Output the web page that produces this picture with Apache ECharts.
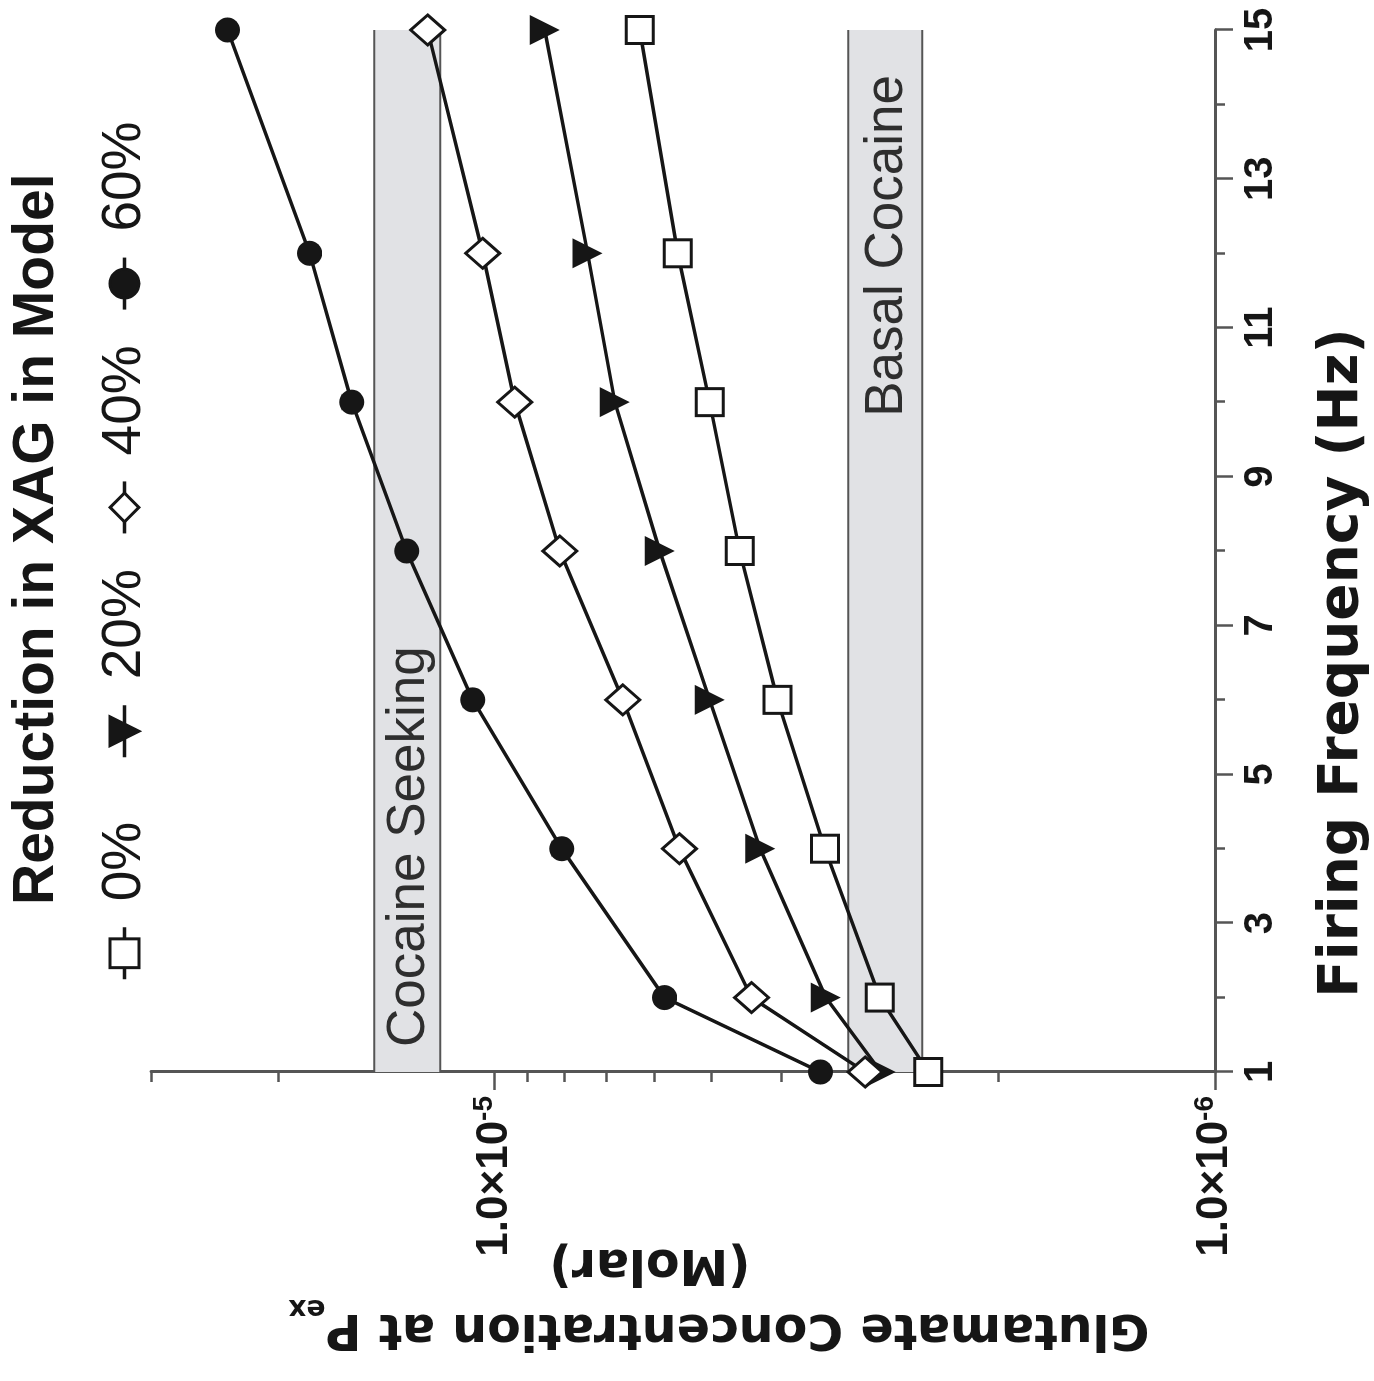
<!DOCTYPE html>
<html>
<head>
<meta charset="utf-8">
<title>Glutamate concentration vs firing frequency</title>
<script src="https://cdn.jsdelivr.net/npm/echarts@6/dist/echarts.min.js"></script>
<style>
  html, body { margin: 0; padding: 0; background: #fff; overflow: hidden; }
  body { width: 1374px; height: 1381px; position: relative; }
  /* chart is drawn upright, then turned a quarter turn like the printed figure */
  #chart {
    position: absolute; left: 0; top: 0;
    width: 1381px; height: 1374px;
    transform-origin: 0 0;
    transform: translate(0, 1381px) rotate(-90deg);
  }
</style>
</head>
<body>
<div id="chart"></div>
<script>
// firing frequency (Hz) and glutamate at Pex (Molar), one array per XAG reduction
const frequencies = [1, 2, 4, 6, 8, 10, 12, 15];
const reduction0 = [2.50e-6, 2.92e-6, 3.48e-6, 4.05e-6, 4.57e-6, 5.03e-6, 5.57e-6, 6.29e-6];
const reduction20 = [2.91e-6, 3.47e-6, 4.28e-6, 5.03e-6, 5.90e-6, 6.81e-6, 7.43e-6, 8.52e-6];
const reduction40 = [3.06e-6, 4.40e-6, 5.54e-6, 6.64e-6, 8.12e-6, 9.38e-6, 1.039e-5, 1.239e-5];
const reduction60 = [3.53e-6, 5.81e-6, 8.07e-6, 1.073e-5, 1.325e-5, 1.579e-5, 1.807e-5, 2.349e-5];
const seriesNames = ['0%', '20%', '40%', '60%'];

const freqRange = [1, 15];
const freqLabels = [1, 3, 5, 7, 9, 11, 13, 15];
const freqTicks = [2, 4, 6, 8, 10, 12, 14];
const concRange = [1e-6, 3e-5];
const concLabels = [1e-6, 1e-5];
const concMinorTicks = [2e-6, 3e-6, 4e-6, 5e-6, 6e-6, 7e-6, 8e-6, 9e-6, 2e-5, 3e-5];

// shaded concentration ranges
const cocaineSeeking = [1.19e-5, 1.47e-5];
const basalCocaine = [2.55e-6, 3.23e-6];

const INK = '#161616';
const AXIS = '#555555';
const BAND = '#e1e2e5';
const SANS = '"Liberation Sans", Arial, sans-serif';
const WIDE = '"DejaVu Sans", sans-serif';

const markerStyles = [
  { symbol: 'rect', size: 27, filled: false, rotate: 0 },
  { symbol: 'triangle', size: 30, filled: true, rotate: 180 },
  { symbol: 'diamond', size: [30, 34], filled: false, rotate: 0 },
  { symbol: 'circle', size: 25, filled: true, rotate: 0 }
];
const seriesValues = [reduction0, reduction20, reduction40, reduction60];

const chart = echarts.init(document.getElementById('chart'));

const bandLabel = {
  show: true,
  fontFamily: SANS,
  fontSize: 53,
  color: '#2e2e2e'
};

// grey bands, carried by the first series
const bandArea = {
  silent: true,
  z: 1,
  itemStyle: { color: BAND },
  data: [
    [
      { name: 'Cocaine Seeking', yAxis: cocaineSeeking[0],
        label: Object.assign({ position: 'insideLeft', offset: [20, 2] }, bandLabel) },
      { yAxis: cocaineSeeking[1] }
    ],
    [
      { name: 'Basal Cocaine', yAxis: basalCocaine[0],
        label: Object.assign({ position: 'insideRight', offset: [-40, 2] }, bandLabel) },
      { yAxis: basalCocaine[1] }
    ]
  ]
};

// thin dark edges along each band
const edgeSeries = cocaineSeeking.concat(basalCocaine).map(v => ({
  type: 'line',
  data: freqRange.map(f => [f, v]),
  symbol: 'none',
  silent: true,
  lineStyle: { color: AXIS, width: 2 },
  emphasis: { disabled: true },
  z: 2
}));

const lineSeries = seriesNames.map((name, i) => {
  const m = markerStyles[i];
  const s = {
    name: name,
    type: 'line',
    data: frequencies.map((f, j) => [f, seriesValues[i][j]]),
    symbol: m.symbol,
    symbolSize: m.size,
    symbolRotate: m.rotate,
    showAllSymbol: true,
    lineStyle: { color: INK, width: 3.5 },
    itemStyle: {
      color: m.filled ? INK : '#fff',
      borderColor: INK,
      borderWidth: m.filled ? 0 : 3
    },
    emphasis: { disabled: true },
    z: 3
  };
  if (i === 0) s.markArea = bandArea;
  return s;
});

// two legend rows side by side so every entry keeps the same pitch
function legendPart(names, left) {
  return {
    data: names,
    left: left,
    top: 92,
    itemWidth: 52,
    itemHeight: 36,
    itemGap: 34,
    selectedMode: false,
    lineStyle: { color: INK, width: 3.5 },
    itemStyle: { borderWidth: 3 },
    textStyle: { fontFamily: SANS, fontSize: 55, color: INK, padding: [0, 0, 0, 21] }
  };
}

const option = {
  animation: false,
  backgroundColor: '#fff',
  title: {
    text: 'Reduction in XAG in Model',
    left: 471,
    top: 4,
    textStyle: { fontFamily: SANS, fontWeight: 'bold', fontSize: 57, color: INK }
  },
  legend: [
    legendPart(seriesNames.slice(0, 1), 395),
    legendPart(seriesNames.slice(1), 617)
  ],
  grid: {
    left: 309,
    right: 30,
    top: 151,
    bottom: 159,
    containLabel: false,
    outerBoundsMode: 'none'
  },
  xAxis: [
    {
      type: 'value',
      min: freqRange[0],
      max: freqRange[1],
      position: 'bottom',
      name: 'Firing Frequency (Hz)',
      nameLocation: 'middle',
      nameGap: 100,
      nameMoveOverlap: false,
      nameTextStyle: {
        fontFamily: WIDE, fontWeight: 'bold', fontSize: 55, color: INK,
        padding: [0, 224, 0, 0]
      },
      axisLine: { lineStyle: { color: AXIS, width: 3 } },
      axisTick: { customValues: freqTicks, length: 10, lineStyle: { color: AXIS, width: 2.5 } },
      axisLabel: {
        customValues: freqLabels,
        margin: 26,
        fontFamily: SANS, fontWeight: 'bold', fontSize: 40, color: INK
      },
      splitLine: { show: false }
    },
    {
      type: 'value',
      min: freqRange[0],
      max: freqRange[1],
      position: 'bottom',
      axisLine: { show: false },
      axisTick: { customValues: freqLabels, length: 18, lineStyle: { color: AXIS, width: 2.5 } },
      axisLabel: { show: false },
      splitLine: { show: false }
    }
  ],
  yAxis: [
    {
      type: 'log',
      logBase: 10,
      min: concRange[0],
      max: concRange[1],
      position: 'left',
      name: '{t|Glutamate Concentration at P}{s|ex}\n{m|(Molar)}',
      nameLocation: 'middle',
      nameRotate: 90,
      nameGap: 161,
      nameMoveOverlap: false,
      nameTextStyle: {
        padding: [0, 72, 0, 0],
        rich: {
          t: { fontFamily: WIDE, fontWeight: 'bold', fontSize: 49, color: INK, lineHeight: 60, padding: [0, 0, 10, 0] },
          s: { fontFamily: WIDE, fontWeight: 'bold', fontSize: 28, color: INK, lineHeight: 28, verticalAlign: 'bottom' },
          m: { fontFamily: WIDE, fontWeight: 'bold', fontSize: 49, color: INK, lineHeight: 60, padding: [0, 0, 0, 138] }
        }
      },
      axisLine: { lineStyle: { color: AXIS, width: 3 } },
      axisTick: { customValues: concMinorTicks, length: 10, lineStyle: { color: AXIS, width: 2.5 } },
      axisLabel: {
        customValues: concLabels,
        margin: 24,
        formatter: v => '{m|1.0×10}{e|' + Math.round(Math.log10(v)) + '}',
        rich: {
          m: { fontFamily: SANS, fontWeight: 'bold', fontSize: 44, color: INK, lineHeight: 48 },
          e: { fontFamily: SANS, fontWeight: 'bold', fontSize: 28, color: INK, lineHeight: 28, verticalAlign: 'top' }
        }
      },
      splitLine: { show: false }
    },
    {
      type: 'log',
      logBase: 10,
      min: concRange[0],
      max: concRange[1],
      position: 'left',
      axisLine: { show: false },
      axisTick: { customValues: concLabels, length: 18, lineStyle: { color: AXIS, width: 2.5 } },
      axisLabel: { show: false },
      splitLine: { show: false }
    }
  ],
  series: edgeSeries.concat(lineSeries)
};

chart.setOption(option);
</script>
</body>
</html>
